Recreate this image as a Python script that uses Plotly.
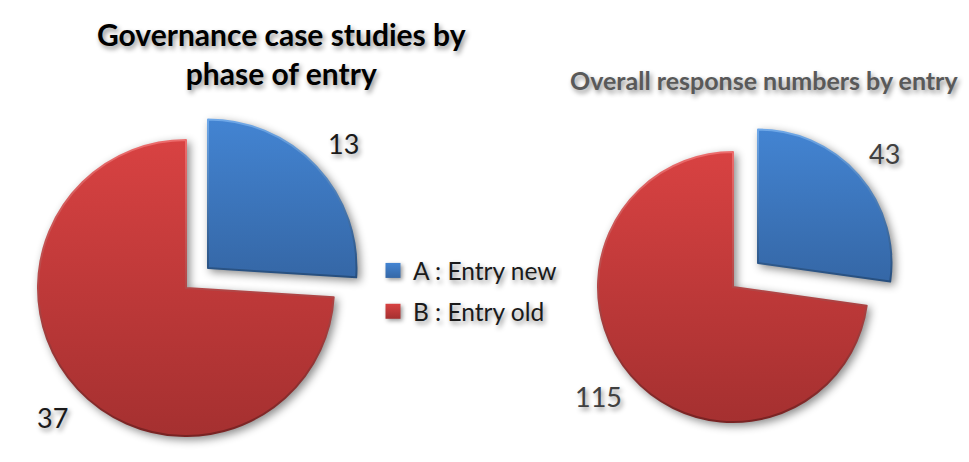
import plotly.graph_objects as go

W, H = 969, 462
categories = ["A : Entry new", "B : Entry old"]
case_studies = [13, 37]
responses = [43, 115]
title_left = "Governance case studies by<br>phase of entry"
title_right = "Overall response numbers by entry"

BLUE, RED = "#3c73ba", "#be3a3a"
BLUE_EDGE, RED_EDGE = "#2b5688", "#8a2a2a"
CLEAR = "rgba(0,0,0,0)"
FONT = "Lato, Carlito, sans-serif"
SHADOW = "2px 3px 5px rgba(0,0,0,0.45)"


def dom(cx, cy, r):
    return dict(x=[(cx - r) / W, (cx + r) / W], y=[1 - (cy + r) / H, 1 - (cy - r) / H])


def slice_trace(values, show, cx, cy, r):
    fill = [BLUE if show == 0 else CLEAR, RED if show == 1 else CLEAR]
    edge = [BLUE_EDGE if show == 0 else CLEAR, RED_EDGE if show == 1 else CLEAR]
    return go.Pie(labels=categories, values=values, sort=False, direction="clockwise", rotation=0,
                  domain=dom(cx, cy, r), textinfo="none", showlegend=False,
                  marker=dict(colors=fill, line=dict(color=edge, width=[2 if show == 0 else 0, 2 if show == 1 else 0])))


fig = go.Figure()
fig.add_trace(slice_trace(case_studies, 1, 186, 288, 148))
fig.add_trace(slice_trace(case_studies, 0, 208, 268, 148.5))
fig.add_trace(slice_trace(responses, 1, 733, 287, 135))
fig.add_trace(slice_trace(responses, 0, 758, 263, 133.5))

for name, col in zip(categories, [BLUE, RED]):
    fig.add_trace(go.Scatter(x=[None], y=[None], mode="markers", name=name, legendgroup=name,
                             marker=dict(symbol="square", size=15, color=col,
                                         line=dict(color="#ffffff", width=0))))


def note(text, x, y, size, color="#1a1a1a", bold=False):
    fig.add_annotation(text=f"<b>{text}</b>" if bold else text, x=x / W, y=1 - y / H,
                       xref="paper", yref="paper", showarrow=False, align="center",
                       xanchor="center", yanchor="middle",
                       font=dict(family=FONT, size=size, color=color, shadow=SHADOW))


note(title_left, 281, 53, 30, "#000000", True)
note(title_right, 764, 80, 25, "#595959", True)
note(str(case_studies[0]), 343, 143, 27)
note(str(case_studies[1]), 52, 417, 27)
note(str(responses[0]), 884, 154, 27, "#404040")
note(str(responses[1]), 598, 396, 27, "#404040")

fig.update_layout(
    width=W, height=H, margin=dict(l=0, r=0, t=0, b=0),
    paper_bgcolor="white", plot_bgcolor="rgba(0,0,0,0)",
    xaxis=dict(visible=False), yaxis=dict(visible=False),
    legend=dict(x=373 / W, y=1 - 248 / H, xanchor="left", yanchor="top", bgcolor=CLEAR,
                font=dict(family=FONT, size=24.5, color="#1a1a1a", shadow=SHADOW),
                itemwidth=30, tracegroupgap=6, traceorder="grouped"),
)

post = """
document.body.style.margin = '0';
var gd = document.getElementById('{plot_id}');
var svg = gd.querySelector('svg.main-svg');
var ns = 'http://www.w3.org/2000/svg';
var defs = svg.querySelector('defs');
function grad(id, a, b) {
  var g = document.createElementNS(ns, 'linearGradient');
  g.setAttribute('id', id); g.setAttribute('x1', '0'); g.setAttribute('y1', '0');
  g.setAttribute('x2', '0'); g.setAttribute('y2', '1');
  [[0, a], [1, b]].forEach(function (s) {
    var st = document.createElementNS(ns, 'stop');
    st.setAttribute('offset', s[0]); st.setAttribute('stop-color', s[1]);
    g.appendChild(st);
  });
  defs.appendChild(g);
}
grad('gBlue', '#4384d2', '#3567a6');
grad('gRed', '#d84242', '#a53030');
grad('eBlue', '#6fa8e8', '#264e7e');
grad('eRed', '#ec6c6c', '#782222');
gd.querySelectorAll('path.surface').forEach(function (p) {
  var f = p.style.fill;
  if (f.indexOf('60, 115, 186') >= 0) { p.style.fill = 'url(#gBlue)'; p.style.stroke = 'url(#eBlue)'; }
  else if (f.indexOf('190, 58, 58') >= 0) { p.style.fill = 'url(#gRed)'; p.style.stroke = 'url(#eRed)'; }
  else { return; }
  p.style.filter = 'drop-shadow(3px 3px 4px rgba(0,0,0,0.45))';
});
gd.querySelectorAll('.legend .legendsymbols path').forEach(function (p) {
  var f = p.style.fill;
  if (f.indexOf('60, 115, 186') >= 0) { p.style.fill = 'url(#gBlue)'; }
  else if (f.indexOf('190, 58, 58') >= 0) { p.style.fill = 'url(#gRed)'; }
  p.style.filter = 'drop-shadow(2px 2px 2px rgba(0,0,0,0.4))';
});
"""
fig.write_html("out.html", post_script=post, config={"displayModeBar": False})
